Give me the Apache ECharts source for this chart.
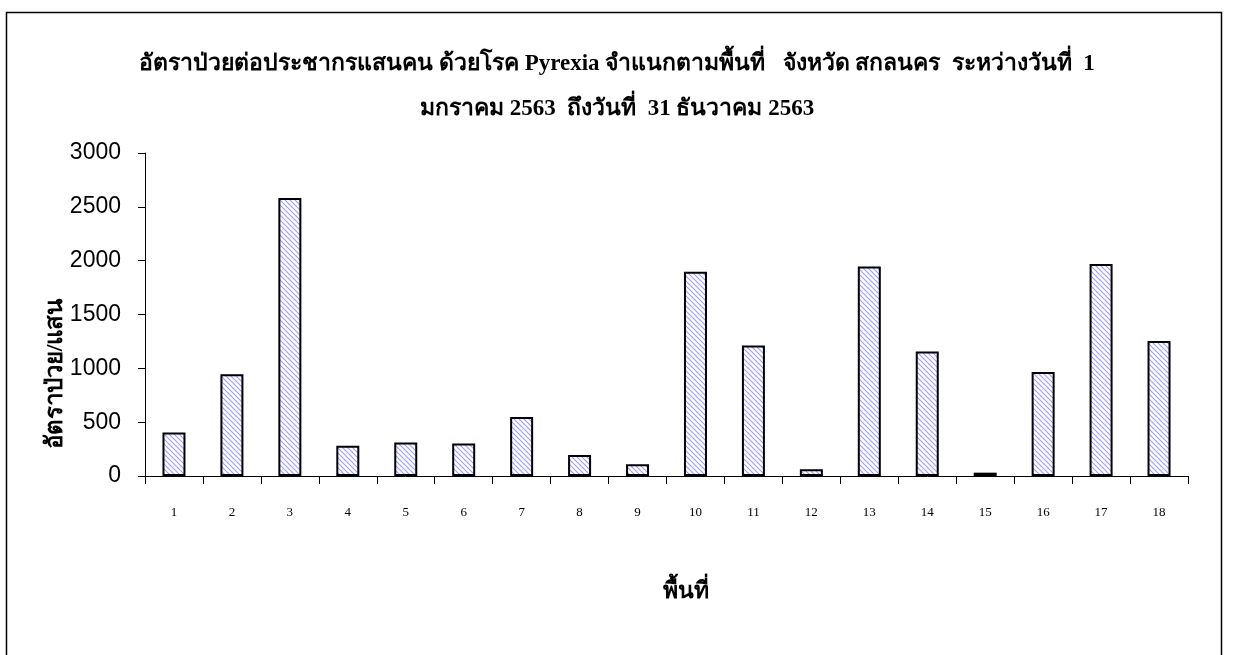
<!DOCTYPE html>
<html>
<head>
<meta charset="utf-8">
<script src="https://cdn.jsdelivr.net/npm/echarts@6/dist/echarts.min.js"></script>
<style>
  html, body { margin: 0; padding: 0; background: #fff; }
  #chart { width: 1234px; height: 655px; }
</style>
</head>
<body>
<div id="chart"></div>
<script>
// Areas (district numbers) and the illness rate per 100,000 population
const areas = ['1','2','3','4','5','6','7','8','9','10','11','12','13','14','15','16','17','18'];
const rates = [403, 945, 2582, 280, 310, 301, 548, 195, 108, 1898, 1212, 62, 1945, 1156, 31, 966, 1970, 1255];

const titleLine1 = 'อัตราป่วยต่อประชากรแสนคน ด้วยโรค Pyrexia จำแนกตามพื้นที่   จังหวัด สกลนคร  ระหว่างวันที่  1';
const titleLine2 = 'มกราคม 2563  ถึงวันที่  31 ธันวาคม 2563';
const yName = 'อัตราป่วย/แสน';
const xName = 'พื้นที่';

// Diagonal hatching used as the bar fill
function hatch() {
  const s = 5;
  const c = document.createElement('canvas');
  c.width = s; c.height = s;
  const g = c.getContext('2d');
  g.fillStyle = '#ffffff';
  g.fillRect(0, 0, s, s);
  g.strokeStyle = '#9c9cff';
  g.lineWidth = 1.1;
  g.beginPath();
  g.moveTo(-1, -1); g.lineTo(s + 1, s + 1);
  g.moveTo(-1, s - 1); g.lineTo(1, s + 1);
  g.moveTo(s - 1, -1); g.lineTo(s + 1, 1);
  g.stroke();
  return c;
}

const serif = "'Liberation Serif', 'Times New Roman', serif";
const sans = "'Liberation Sans', Arial, sans-serif";

const chart = echarts.init(document.getElementById('chart'), null, { renderer: 'canvas' });
chart.setOption({
  backgroundColor: '#ffffff',
  animation: false,
  title: [
    { text: titleLine1, left: 'center', top: 48,
      textStyle: { fontFamily: serif, fontWeight: 'bold', fontSize: 23, color: '#000' } },
    { text: titleLine2, left: 'center', top: 93,
      textStyle: { fontFamily: serif, fontWeight: 'bold', fontSize: 23, color: '#000' } }
  ],
  graphic: [
    { type: 'polyline', silent: true,
      shape: { points: [[6.5, 655], [6.5, 12.5], [1221.5, 12.5], [1221.5, 655]] },
      style: { stroke: '#000', lineWidth: 1.5, fill: null } },
    { type: 'text', silent: true, x: 686, y: 592,
      style: { text: xName, font: "bold 23px " + serif, fill: '#000', align: 'center', verticalAlign: 'middle' } },
    { type: 'text', silent: true, x: 56, y: 374, rotation: Math.PI / 2,
      style: { text: yName, font: "bold 24px " + serif, fill: '#000', align: 'center', verticalAlign: 'middle' } }
  ],
  grid: { left: 145, right: 46, top: 153, bottom: 179, containLabel: false },
  xAxis: {
    type: 'category',
    data: areas,
    axisLine: { lineStyle: { color: '#000', width: 1 } },
    axisTick: { show: true, length: 8, lineStyle: { color: '#000' } },
    axisLabel: { fontFamily: serif, fontSize: 13, color: '#000', margin: 30 },
    splitLine: { show: false }
  },
  yAxis: {
    type: 'value',
    min: 0, max: 3000, interval: 500,
    axisLine: { show: true, lineStyle: { color: '#000', width: 1 } },
    axisTick: { show: true, length: 7, lineStyle: { color: '#000' } },
    axisLabel: { fontFamily: sans, fontSize: 23, color: '#000', margin: 24,
      formatter: v => String(v) },
    splitLine: { show: false }
  },
  series: [{
    type: 'bar',
    data: rates,
    barWidth: 23,
    itemStyle: {
      color: { image: hatch(), repeat: 'repeat' },
      borderColor: '#000',
      borderWidth: 2
    }
  }]
});
</script>
</body>
</html>
